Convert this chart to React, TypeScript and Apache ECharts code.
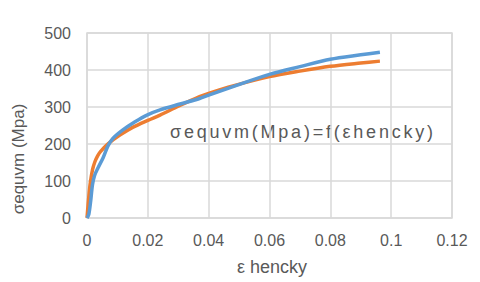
import React, { useEffect, useRef } from "react";
import * as echarts from "echarts";

const xTicks = [0, 0.02, 0.04, 0.06, 0.08, 0.1, 0.12];
const yTicks = [0, 100, 200, 300, 400, 500];

const orangeStrain = [0, 0.0004, 0.001, 0.0018, 0.0026, 0.0035, 0.0045, 0.007, 0.0108, 0.015, 0.02, 0.024, 0.03, 0.037, 0.04, 0.048, 0.06, 0.07, 0.08, 0.09, 0.0963];
const orangeStress = [0, 40, 90, 130, 152, 168, 180, 201, 224, 245, 264, 278, 302, 328, 337, 357, 382, 397, 410, 419, 424];

const blueStrain = [0, 0.0006, 0.0012, 0.0018, 0.0025, 0.0036, 0.0053, 0.0069, 0.0085, 0.0118, 0.0158, 0.0197, 0.024, 0.0306, 0.037, 0.04, 0.048, 0.06, 0.07, 0.08, 0.09, 0.0963];
const blueStress = [0, 10, 45, 90, 115, 135, 163, 195, 215, 238, 260, 278, 292, 308, 323, 332, 355, 388, 409, 429, 441, 448];

const titleText = "σequvm(Mpa)=f(εhencky)";
const yTitle = "σequvm (Mpa)";
const xTitle = "ε hencky";

const FONT = "'Liberation Sans', Arial, sans-serif";
const GRAY = "#595959";

export default function App() {
  const ref = useRef<HTMLDivElement>(null);
  useEffect(() => {
    if (!ref.current) return;
    const chart = echarts.init(ref.current, null, { renderer: "svg" });
    const zip = (xs: number[], ys: number[]) => xs.map((x, i) => [x, ys[i]]);
    chart.setOption({
      animation: false,
      backgroundColor: "#ffffff",
      grid: { left: 87, right: 28, top: 33, bottom: 64, containLabel: false },
      xAxis: {
        type: "value",
        min: xTicks[0],
        max: xTicks[xTicks.length - 1],
        interval: 0.02,
        axisLine: { show: false },
        axisTick: { show: false },
        axisLabel: { color: GRAY, fontSize: 16, fontFamily: FONT, margin: 14 },
        splitLine: { show: true, lineStyle: { color: "#d9d9d9", width: 1.5 } },
      },
      yAxis: {
        type: "value",
        min: yTicks[0],
        max: yTicks[yTicks.length - 1],
        interval: 100,
        axisLine: { show: false },
        axisTick: { show: false },
        axisLabel: { color: GRAY, fontSize: 16, fontFamily: FONT, margin: 16 },
        splitLine: { show: true, lineStyle: { color: "#d9d9d9", width: 1.5 } },
      },
      graphic: [
        {
          type: "rect",
          shape: { x: 87, y: 33, width: 365, height: 185 },
          style: { fill: "none", stroke: "#d9d9d9", lineWidth: 1.5 },
          z: -1,
        },
        {
          type: "text",
          id: "ctitle",
          x: 170,
          y: 132,
          style: { text: titleText, fontSize: 18, fontFamily: FONT, fill: GRAY, textAlign: "left", textVerticalAlign: "middle" },
        },
        {
          type: "text",
          x: 18,
          y: 159,
          rotation: Math.PI / 2,
          style: { text: yTitle, fontSize: 17, fontFamily: FONT, fill: GRAY, textAlign: "center", textVerticalAlign: "middle" },
        },
        {
          type: "text",
          x: 272,
          y: 267,
          style: { text: xTitle, fontSize: 18, fontFamily: FONT, fill: GRAY, textAlign: "center", textVerticalAlign: "middle" },
        },
      ],
      series: [
        {
          type: "line",
          data: zip(orangeStrain, orangeStress),
          smooth: 0.3,
          showSymbol: false,
          lineStyle: { color: "#ED7D31", width: 3.5 },
          itemStyle: { color: "#ED7D31" },
        },
        {
          type: "line",
          data: zip(blueStrain, blueStress),
          smooth: 0.3,
          showSymbol: false,
          lineStyle: { color: "#5B9BD5", width: 3.5 },
          itemStyle: { color: "#5B9BD5" },
        },
      ],
    });
    const fix = () => {
      const root = ref.current;
      if (!root) return;
      root.querySelectorAll("text").forEach((t) => {
        if (t.textContent === titleText) {
          const el = t as SVGTextElement;
          el.setAttribute("letter-spacing", "0");
          const len = el.getComputedTextLength();
          const ls = (263 - len) / (titleText.length - 1);
          el.setAttribute("letter-spacing", String(Math.max(0, ls)));
        }
      });
    };
    try {
      (chart.getZr() as any).refreshImmediately();
    } catch (e) {}
    fix();
    chart.on("finished", fix);
    const tm = setTimeout(fix, 50);
    return () => {
      clearTimeout(tm);
      chart.dispose();
    };
  }, []);
  return <div ref={ref} style={{ width: 480, height: 282, position: "absolute", left: 0, top: 0 }} />;
}
